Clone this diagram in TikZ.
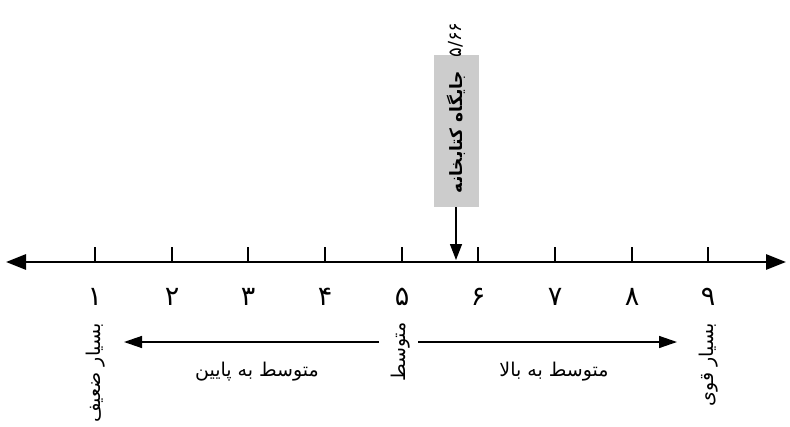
\documentclass[tikz,border=0pt]{standalone}
\usepackage{fontspec}
\usetikzlibrary{arrows.meta}
\TeXXeTstate=1
\newfontfamily\arabicfont[Script=Arabic]{DejaVu Sans}
\newcommand{\fa}[1]{{\arabicfont\beginR #1\endR}}
\tikzset{
  axisline/.style={line width=2.8pt, {Triangle[length=20pt,width=15pt]}-{Triangle[length=20pt,width=15pt]}},
  tickmark/.style={line width=1.1pt},
  digit/.style={font=\arabicfont\fontsize{27}{30}\selectfont, inner sep=0pt},
  vlabel/.style={font=\arabicfont\fontsize{19}{22}\selectfont, rotate=90, inner sep=0pt},
  hlabel/.style={font=\arabicfont\fontsize{19}{22}\selectfont, inner sep=0pt},
  rangearrow/.style={line width=1.4pt, -{Triangle[length=18pt,width=12pt]}},
  markbox/.style={fill=black!20, minimum width=45pt, minimum height=152pt, inner sep=0pt},
}
\begin{document}
\begin{tikzpicture}[x=1pt,y=-1pt]
\useasboundingbox (0,0) rectangle (790,426);
\coordinate (L) at (6,262);
\coordinate (R) at (786,262);
\draw[axisline] (L) -- (R);
\foreach \i/\x/\d in {1/95/۱,2/172/۲,3/248/۳,4/325/۴,5/402/۵,6/478/۶,7/555/۷,8/632/۸,9/708/۹}{
  \coordinate (t\i) at (\x,247);
  \coordinate (b\i) at (\x,262);
  \draw[tickmark] (t\i) -- (b\i);
  \node[digit] (d\i) at (\x,297) {\d};
}
\node[markbox] (box) at (456,131) {};
\node[vlabel, font=\arabicfont\bfseries\fontsize{17}{20}\selectfont] (boxtxt) at (456,132) {\fa{جایگاه کتابخانه}};
\node[digit, rotate=90, font=\arabicfont\fontsize{18}{20}\selectfont] (val) at (456,40) {۵/۶۶};
\coordinate (hit) at (456,260);
\draw[rangearrow, -{Triangle[length=16pt,width=12pt]}] (box.south) -- (hit);
\node[vlabel] (weak) at (96,373) {\fa{بسیار ضعیف}};
\node[vlabel] (mid) at (401,352) {\fa{متوسط}};
\node[vlabel] (strong) at (709,365) {\fa{بسیار قوی}};
\coordinate (ls) at (379,342);
\coordinate (lend) at (124,342);
\coordinate (rs) at (418,342);
\coordinate (rend) at (677,342);
\draw[rangearrow] (ls) -- (lend);
\draw[rangearrow] (rs) -- (rend);
\node[hlabel] (down) at (257,372) {\fa{متوسط به پایین}};
\node[hlabel] (up) at (554,372) {\fa{متوسط به بالا}};
\end{tikzpicture}
\end{document}
